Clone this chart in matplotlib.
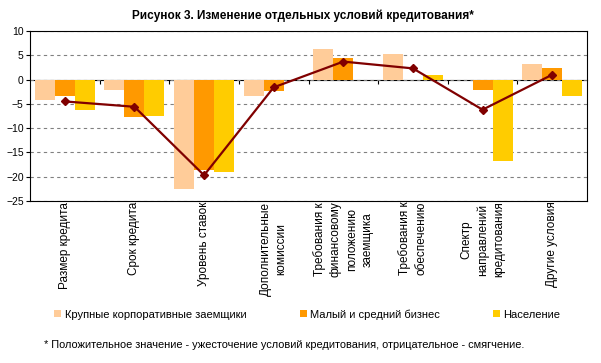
import numpy as np
import matplotlib
matplotlib.use('Agg')
import matplotlib.pyplot as plt

plt.rcParams['font.family'] = ['Liberation Sans', 'DejaVu Sans']

# данные
categories = ['Размер кредита', 'Срок кредита', 'Уровень ставок',
              'Дополнительные\nкомиссии',
              'Требования к\nфинансовому\nположению\nзаемщика',
              'Требования к\nобеспечению',
              'Спектр\nнаправлений\nкредитования',
              'Другие условия']
large = [-4.3, -2.2, -22.5, -3.3, 6.3, 5.3, 0.0, 3.3]
smb = [-3.3, -7.8, -18.6, -2.3, 4.5, 0.0, -2.2, 2.3]
population = [-6.3, -7.4, -19.0, 0.0, 0.0, 1.0, -16.8, -3.3]
average = [-4.5, -5.6, -19.7, -1.6, 3.7, 2.3, -6.2, 1.0]
series_names = ['Крупные корпоративные заемщики', 'Малый и средний бизнес', 'Население']
yticks = list(range(-25, 11, 5))

W, H = 601, 363
fig = plt.figure(figsize=(W / 100, H / 100), dpi=100)
ax = fig.add_axes([30 / W, 1 - 201 / H, 557 / W, 170 / H])

x = np.arange(len(categories))
w = 0.287
b1 = ax.bar(x - w, large, w, color='#FFCC99', zorder=2)
b2 = ax.bar(x, smb, w, color='#FF9900', zorder=2)
b3 = ax.bar(x + w, population, w, color='#FFCC00', zorder=2)
ax.plot(x, average, color='#800000', marker='D', ms=4, lw=1.6, zorder=3)

ax.set_xlim(-0.5, len(categories) - 0.5)
ax.set_ylim(-25, 10)
ax.set_yticks(yticks)
ax.tick_params(axis='y', direction='out', length=3, width=0.8, pad=1.5, labelsize=7.5)
ax.grid(axis='y', color='#808080', linestyle=(0, (3, 3)), linewidth=0.8, zorder=1)
ax.set_axisbelow(True)

ax.set_xticks(x)
ax.set_xticklabels(categories, rotation=90, va='top', ha='center',
                   multialignment='center', linespacing=1.45, fontsize=8.5)
ax.tick_params(axis='x', length=0, pad=0.5)

for s in ax.spines.values():
    s.set_linewidth(0.8)
    s.set_color('black')

# ось категорий на нуле
y0 = ax.get_ylim()
sec = ax.secondary_xaxis((0 - y0[0]) / (y0[1] - y0[0]))
sec.set_alignment('bottom')
sec.set_xticks(x[:-1] + 0.5)
sec.set_xticklabels([])
sec.tick_params(direction='out', length=3, width=0.8)
sec.spines['bottom'].set_linewidth(0.8)

fig.legend([b1, b2, b3], series_names, loc='center',
           bbox_to_anchor=(307.5 / W, 1 - 314.5 / H), ncol=3, frameon=False,
           fontsize=8, handlelength=0.63, handleheight=0.63,
           handletextpad=0.3, columnspacing=4.8, borderpad=0)

fig.text(303 / W, 1 - 16 / H, 'Рисунок 3. Изменение отдельных условий кредитования*',
         ha='center', va='center', fontsize=8.5, fontweight='bold')
fig.text(284.5 / W, 1 - 345 / H,
         '* Положительное значение - ужесточение условий кредитования, отрицательное - смягчение.',
         ha='center', va='center', fontsize=7.9)

fig.savefig('out.png', dpi=100)
